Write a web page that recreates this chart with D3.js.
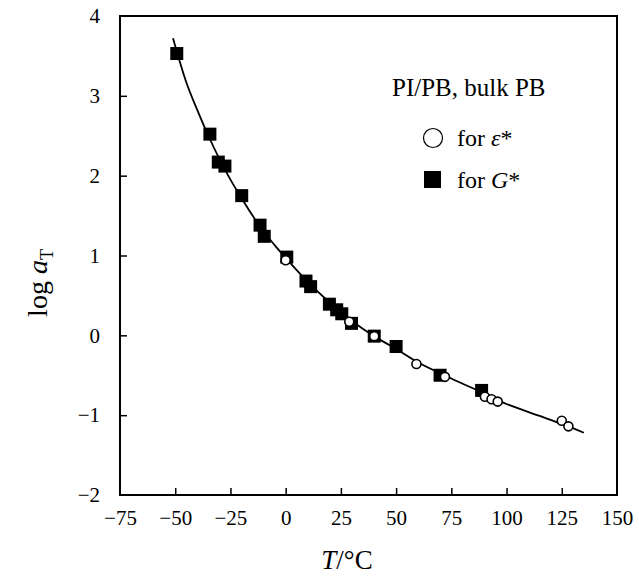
<!DOCTYPE html>
<html><head><meta charset="utf-8">
<script src="https://cdn.jsdelivr.net/npm/d3@7"></script>
<style>body{margin:0;background:#fff}svg{display:block}</style>
</head><body>
<script>
// Data
const squaresT   = [-49.3, -34.3, -30.5, -27.5, -19.9, -11.6, -9.7, 0.5, 9.2, 11.3, 19.8, 23.1, 25.4, 29.8, 40.1, 50.0, 69.9, 88.7];
const squaresLog = [3.53, 2.52, 2.17, 2.12, 1.75, 1.38, 1.24, 0.98, 0.68, 0.61, 0.39, 0.32, 0.27, 0.15, -0.01, -0.14, -0.50, -0.69];
const circlesT   = [0.0, 28.8, 40.1, 59.2, 72.1, 90.2, 93.2, 96.0, 125.0, 128.0];
const circlesLog = [0.94, 0.17, -0.01, -0.36, -0.52, -0.77, -0.80, -0.83, -1.07, -1.14];
const curveT   = [-51, -45, -40, -35, -30, -25, -20, -15, -10, -5, 0, 10, 20, 30, 40, 50, 60, 75, 90, 100, 115, 125, 135];
const curveLog = [3.72, 3.17, 2.82, 2.50, 2.21, 1.95, 1.72, 1.50, 1.30, 1.13, 0.97, 0.67, 0.41, 0.18, -0.01, -0.17, -0.34, -0.54, -0.73, -0.86, -1.01, -1.11, -1.22];
const xTicks = [-75, -50, -25, 0, 25, 50, 75, 100, 125, 150];
const yTicks = [-2, -1, 0, 1, 2, 3, 4];

const W = 639, H = 580;
const L = 120, R = 617, T = 16, B = 495;
const svg = d3.select("body").append("svg").attr("width", W).attr("height", H);
const x = d3.scaleLinear().domain([-75, 150]).range([L, R]);
const y = d3.scaleLinear().domain([-2, 4]).range([B, T]);
const font = "'Liberation Serif', 'DejaVu Serif', serif";
const minus = v => String(v).replace("-", "\u2212");

// Axes (ticks inward)
const gx = svg.append("g").attr("transform", `translate(0,${B})`)
  .call(d3.axisBottom(x).tickValues(xTicks).tickSize(-7).tickPadding(15).tickFormat(minus));
const gy = svg.append("g").attr("transform", `translate(${L},0)`)
  .call(d3.axisLeft(y).tickValues(yTicks).tickSize(-7).tickPadding(20).tickFormat(minus));
[gx, gy].forEach(g => {
  g.select(".domain").remove();
  g.selectAll(".tick line").attr("stroke", "#000").attr("stroke-width", 1.5);
  g.selectAll(".tick text").attr("font-family", font).attr("font-size", 21).attr("fill", "#000");
});
gx.selectAll(".tick line").filter(d => d === -75 || d === 150).remove();
gy.selectAll(".tick line").filter(d => d === -2 || d === 4).remove();

// Frame
svg.append("rect").attr("x", L).attr("y", T).attr("width", R - L).attr("height", B - T)
  .attr("fill", "none").attr("stroke", "#000").attr("stroke-width", 2);

// Fitted curve
const curvePts = curveT.map((t, i) => [t, curveLog[i]]);
svg.append("path").datum(curvePts)
  .attr("d", d3.line().x(d => x(d[0])).y(d => y(d[1])).curve(d3.curveCatmullRom))
  .attr("fill", "none").attr("stroke", "#000").attr("stroke-width", 1.8);

// Squares (G*)
const sq = 13;
svg.append("g").selectAll("rect").data(squaresT.map((t, i) => [t, squaresLog[i]])).join("rect")
  .attr("x", d => x(d[0]) - sq / 2).attr("y", d => y(d[1]) - sq / 2)
  .attr("width", sq).attr("height", sq).attr("fill", "#000");

// Circles (epsilon*)
svg.append("g").selectAll("circle").data(circlesT.map((t, i) => [t, circlesLog[i]])).join("circle")
  .attr("cx", d => x(d[0])).attr("cy", d => y(d[1])).attr("r", 4.5)
  .attr("fill", "#fff").attr("stroke", "#000").attr("stroke-width", 1.6);

// Annotation and legend
svg.append("text").attr("x", 392).attr("y", 96).attr("font-family", font).attr("font-size", 25)
  .text("PI/PB, bulk PB");
svg.append("circle").attr("cx", 433).attr("cy", 138).attr("r", 9.5)
  .attr("fill", "#fff").attr("stroke", "#000").attr("stroke-width", 1.2);
const t1 = svg.append("text").attr("x", 457).attr("y", 146).attr("font-family", font).attr("font-size", 24);
t1.append("tspan").text("for ");
t1.append("tspan").attr("font-style", "italic").text("\u03b5");
t1.append("tspan").text("*");
svg.append("rect").attr("x", 424).attr("y", 171).attr("width", 17).attr("height", 17).attr("fill", "#000");
const t2 = svg.append("text").attr("x", 457).attr("y", 188).attr("font-family", font).attr("font-size", 24);
t2.append("tspan").text("for ");
t2.append("tspan").attr("font-style", "italic").text("G");
t2.append("tspan").text("*");

// Axis titles
const xl = svg.append("text").attr("x", 347).attr("y", 569).attr("text-anchor", "middle")
  .attr("font-family", font).attr("font-size", 27);
xl.append("tspan").attr("font-style", "italic").text("T");
xl.append("tspan").text("/\u00b0C");

const yl = svg.append("text").attr("transform", "translate(47,283) rotate(-90)").attr("text-anchor", "middle")
  .attr("font-family", font).attr("font-size", 28);
yl.append("tspan").text("log ");
yl.append("tspan").attr("font-style", "italic").text("a");
yl.append("tspan").attr("font-size", 18).attr("dy", 6).text("T");
</script>
</body></html>
